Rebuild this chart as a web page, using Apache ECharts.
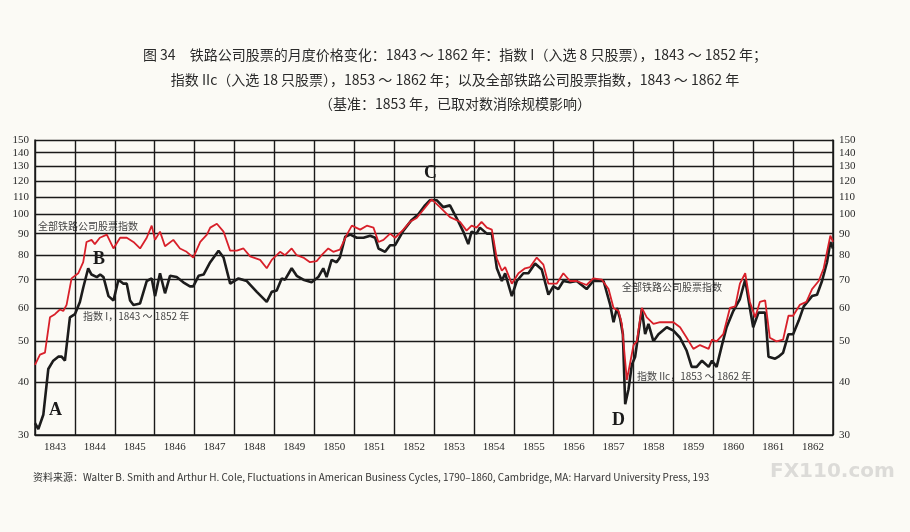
<!DOCTYPE html>
<html><head><meta charset="utf-8">
<script src="https://cdn.jsdelivr.net/npm/echarts@6/dist/echarts.min.js"></script>
<style>html,body{margin:0;padding:0;background:#fbfaf5;}#chart{width:910px;height:532px;}</style>
</head><body><div id="chart"></div>
<script>
var years = ['1843','1844','1845','1846','1847','1848','1849','1850','1851','1852','1853','1854','1855','1856','1857','1858','1859','1860','1861','1862'];
var yTicks = [30,40,50,60,70,80,90,100,110,120,130,140,150];

// 全部铁路公司股票指数 (months since Jan 1843)
var redMonths = [0,1.5,3,4.5,6,7.5,8.5,9.5,11,13,14.5,15.5,17,18,19.5,21.6,23.6,25.6,27.6,29.6,31.6,33.6,35.1,36.1,37.6,39.1,41.6,43.6,45.6,47.6,49.7,51.7,52.7,54.7,56.7,58.7,60.7,62.7,64.7,67.7,69.7,71.2,73.7,75.2,77.2,78.7,80.7,82.7,84.7,86.2,88.2,89.7,91.7,93.8,95.3,97.8,99.8,101.8,103.3,104.8,106.8,108.3,110.8,112.8,114.8,116.8,119.3,121.8,124.8,127.8,129.8,131.3,132.8,134.3,135.9,137.4,138.9,140.4,141.4,143.4,145.4,147.4,148.9,150.9,152.9,154.4,156.9,158.9,160.9,162.9,165.9,167.9,170.5,172.5,174,175.5,176.5,178,179,180,181,182.5,184,186,188,190,192,194,196,198,200,202.6,203.6,205,207,209,210.6,212,213.6,215,216.6,218,219.6,221,223,225,226.6,228,230,232,233.7,235.7,237.2,239.2,240];
var redValues = [44,46.5,47,57,58,59.5,59,61,70.5,72.5,77,86,87,85,88,89.5,83,88,88,86,83,88,94,87,91,84,87,83,81.5,79,86,89.5,93,95,91,82,82,83,79.5,78,74.5,78,81.5,80,83,80,79,77,77.5,80,83,81.5,82.5,89.5,94,92,94,93,86,87,90,88,92,96,98,102.5,108.5,104,98.5,96,91.5,94,93,96,93,92,78.5,73.5,75,68.5,72.5,74.5,75,79,76,68.5,68.5,72.5,69.5,69.5,68,70.5,70,66.5,60,59,55,40.5,44.5,49,50,60,57,55,55.5,55.5,55.5,54,51,48,49,48,50.5,50,52,60,60.5,68.5,72.5,62,57,62,62.5,51,50,50.5,57.5,57.5,61,62,66.5,69.5,74.5,89,86];

// 指数 I (1843–1852) 与 指数 IIc (1853–1862)
var blackMonths = [0,1,2.5,4,5.5,7,8,9,10.5,12,13.5,14.5,16,17,18.6,19.6,20.6,22.1,23.6,25.1,26.6,27.6,28.6,29.6,31.6,33.6,35.1,36.1,37.6,39.1,40.6,42.6,44.6,46.6,47.6,49.2,50.7,52.7,55.2,56.7,58.7,61.2,63.7,66.7,69.7,71.2,72.7,74.2,75.2,77.2,78.7,80.7,83.2,85.2,86.7,87.7,89.2,90.7,91.7,93.3,94.8,96.8,98.8,100.8,102.3,103.3,105.3,106.8,108.3,110.8,113.3,115.3,117.3,118.8,120.8,122.8,124.8,126.8,128.8,130.3,131.3,132.8,133.8,135.9,137.4,138.9,140.4,141.4,143.4,144.9,146.9,148.4,150.4,152.4,154.4,155.9,157.4,158.9,160.9,162.9,165.9,167.9,171,173,174,175,176,176.8,177.5,178.5,179.5,180.5,182.5,183.5,184.5,186,187.5,190,192,194,196,197.5,199,200.6,202.6,203.6,205,206.6,208,210,212,213.6,215,216,217.6,219.6,220.6,222.6,223.6,225,226.6,228,229.7,231.2,233.7,235.2,236.7,238.2,239.2,240];
var blackValues = [32,31,33.5,43,45,46,46,45,57,58,62,67,74.5,72,71,72,71,64,62.5,70,68.5,68.5,62.5,61,61.5,69.5,70.5,64,72.5,65,71.5,71,69,67.5,67.5,71.5,72,77,82,79,68.5,70.5,69.5,65.5,62,65.5,66,70.5,70,74.5,71.5,70,69,71,74.5,71,78,77,79,88.5,89.5,88,88,89,88,83,81.5,84.5,84.5,91.5,97,100,105,108,108,104,105,98,91,85,91,90,93,90,90,74.5,69.5,72.5,64,69.5,72.5,72.5,76.5,74,64.5,67.5,66.5,69.5,69,69.5,66.5,69.5,69.5,61,55.5,60,56.5,52,35.5,38.5,44,46,59.5,52,55,50,52,54,53,51,47.5,43.5,43.5,45,43.5,45,43.5,49,54,59,63,70,60,54,58.5,58.5,46,45.5,46,47,52,52,56,60.5,64,64.5,69.5,77,86,83];

function pairs(xs, ys) {
  var out = [];
  for (var i = 0; i < xs.length; i++) out.push([xs[i], ys[i]]);
  return out;
}

var myChart = echarts.init(document.getElementById('chart'));
var txt = '#2a2a2a';
var cjk = '"Noto Sans CJK SC", "Liberation Serif", serif';
var yAxisBase = {
  type: 'log', min: 30, max: 150, logBase: 10,
  axisLine: { show: true, lineStyle: { color: '#1a1a1a', width: 1.5 } },
  axisTick: { show: false, customValues: yTicks },
  axisLabel: { customValues: yTicks, color: txt, fontSize: 11, fontFamily: '"Liberation Serif", serif', margin: 6 },
  splitLine: { show: true, lineStyle: { color: '#1a1a1a', width: 1.3 } }
};

var option = {
  backgroundColor: '#fbfaf5',
  animation: false,
  grid: { left: 35, right: 77, top: 140, bottom: 97 },
  xAxis: [
    {
      type: 'category', data: years, boundaryGap: true,
      axisLine: { lineStyle: { color: '#1a1a1a', width: 1.5 } },
      axisTick: { show: false },
      axisLabel: { color: txt, fontSize: 11, fontFamily: '"Liberation Serif", serif', margin: 7 },
      splitLine: { show: true, lineStyle: { color: '#1a1a1a', width: 1.4 } }
    },
    { type: 'value', min: 0, max: 240, show: false }
  ],
  yAxis: [
    Object.assign({}, yAxisBase, { position: 'left' }),
    Object.assign({}, yAxisBase, { position: 'right', splitLine: { show: false } })
  ],
  series: [
    {
      name: '指数', type: 'line', xAxisIndex: 1, yAxisIndex: 0,
      data: pairs(blackMonths, blackValues), showSymbol: false,
      lineStyle: { color: '#1c1c1c', width: 2.6 }, z: 3
    },
    {
      name: '全部铁路公司股票指数', type: 'line', xAxisIndex: 1, yAxisIndex: 0,
      data: pairs(redMonths, redValues), showSymbol: false,
      lineStyle: { color: '#d8202a', width: 1.8 }, z: 4
    }
  ],
  graphic: [
    { type: 'text', left: 'center', top: 48, style: { text: '图 34　铁路公司股票的月度价格变化：1843 ～ 1862 年：指数 I（入选 8 只股票），1843 ～ 1852 年；', fill: txt, font: '14px ' + cjk } },
    { type: 'text', left: 'center', top: 73, style: { text: '指数 IIc（入选 18 只股票），1853 ～ 1862 年；以及全部铁路公司股票指数，1843 ～ 1862 年', fill: txt, font: '14px ' + cjk } },
    { type: 'text', left: 'center', top: 97, style: { text: '（基准：1853 年，已取对数消除规模影响）', fill: txt, font: '14px ' + cjk } },
    { type: 'text', left: 49, top: 401, style: { text: 'A', fill: '#1a1a1a', font: 'bold 18px "Liberation Serif", serif' } },
    { type: 'text', left: 93, top: 250, style: { text: 'B', fill: '#1a1a1a', font: 'bold 18px "Liberation Serif", serif' } },
    { type: 'text', left: 424, top: 164, style: { text: 'C', fill: '#1a1a1a', font: 'bold 18px "Liberation Serif", serif' } },
    { type: 'text', left: 612, top: 411, style: { text: 'D', fill: '#1a1a1a', font: 'bold 18px "Liberation Serif", serif' } },
    { type: 'text', left: 38, top: 221, style: { text: '全部铁路公司股票指数', fill: '#444', font: '10px ' + cjk, backgroundColor: '#fbfaf5' } },
    { type: 'text', left: 83, top: 311, style: { text: '指数 I，1843 ～ 1852 年', fill: '#444', font: '10px ' + cjk, backgroundColor: '#fbfaf5' } },
    { type: 'text', left: 622, top: 282, style: { text: '全部铁路公司股票指数', fill: '#444', font: '10px ' + cjk, backgroundColor: '#fbfaf5' } },
    { type: 'text', left: 637, top: 371, style: { text: '指数 IIc，1853 ～ 1862 年', fill: '#444', font: '10px ' + cjk, backgroundColor: '#fbfaf5' } },
    { type: 'text', left: 33, top: 472, style: { text: '资料来源：Walter B. Smith and Arthur H. Cole, Fluctuations in American Business Cycles, 1790–1860, Cambridge, MA: Harvard University Press, 193', fill: '#333', font: '10px ' + cjk } },
    { type: 'text', left: 770, top: 462, style: { text: 'FX110.com', fill: 'rgba(150,150,150,0.3)', font: 'bold 20px "DejaVu Sans", sans-serif' } }
  ]
};
myChart.setOption(option);
</script>
</body></html>
